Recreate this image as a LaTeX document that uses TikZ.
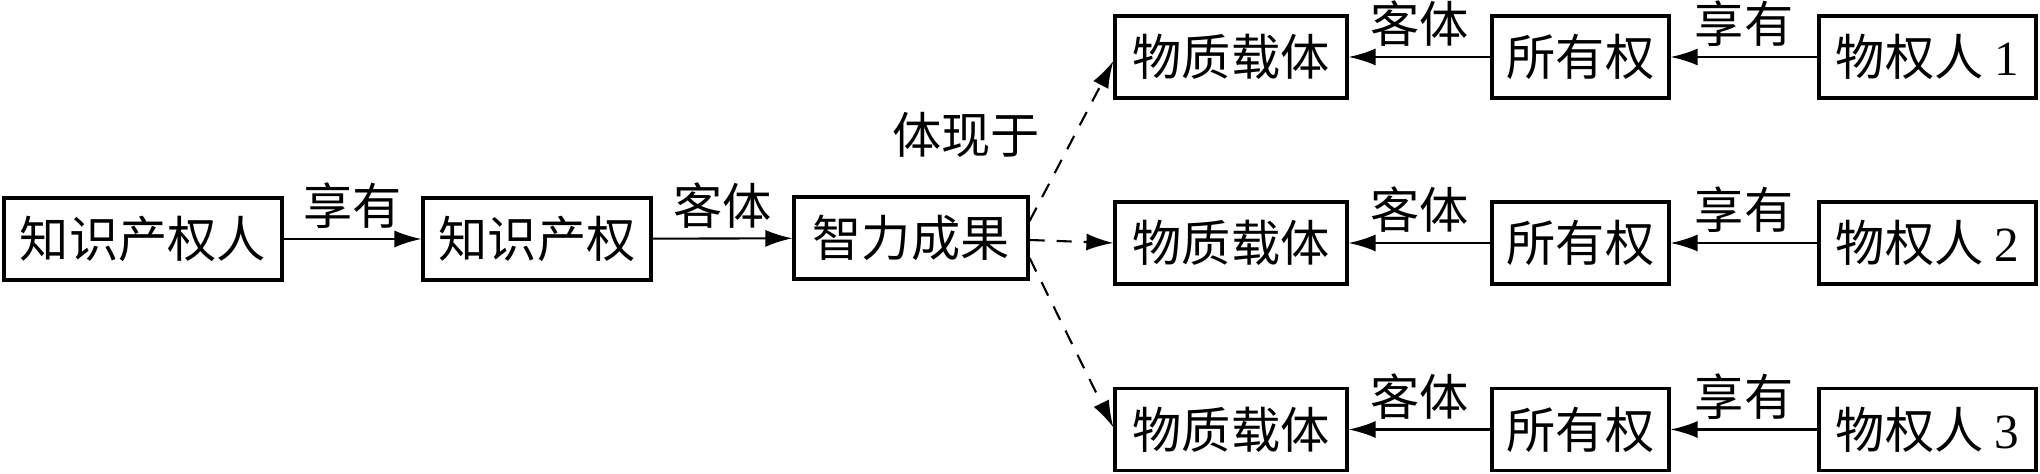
\documentclass[tikz,border=0pt]{standalone}
\usepackage{fontspec}
\setmainfont{Liberation Serif}
\newfontfamily\cjk{Noto Sans CJK SC}
\usetikzlibrary{arrows.meta}
\begin{document}
\begin{tikzpicture}[
  font=\cjk\fontsize{14}{16}\selectfont,
  box/.style={draw, line width=0.9pt, inner sep=0pt, minimum height=0.82cm},
  arr/.style={line width=0.6pt, -{Latex[length=2.7mm,width=1.7mm]}},
  darr/.style={arr, dash pattern=on 1.5mm off 1.2mm},
  lbl/.style={midway, yshift=0.33cm, inner sep=0pt}
]
\useasboundingbox (0,0) rectangle (20.4,4.74);
\node[box, minimum width=2.78cm] (A) at (1.43,2.35) {知识产权人};
\node[box, minimum width=2.28cm] (B) at (5.37,2.35) {知识产权};
\node[box, minimum width=2.34cm] (C) at (9.11,2.36) {智力成果};

\node[box, minimum width=2.32cm] (M1) at (12.31,4.17) {物质载体};
\node[box, minimum width=2.32cm] (M2) at (12.31,2.31) {物质载体};
\node[box, minimum width=2.32cm] (M3) at (12.31,0.445) {物质载体};

\node[box, minimum width=1.77cm] (O1) at (15.805,4.17) {所有权};
\node[box, minimum width=1.77cm] (O2) at (15.805,2.31) {所有权};
\node[box, minimum width=1.77cm] (O3) at (15.805,0.445) {所有权};

\node[box, minimum width=2.17cm] (P1) at (19.275,4.17) {物权人 {\rmfamily 1}};
\node[box, minimum width=2.17cm] (P2) at (19.275,2.31) {物权人 {\rmfamily 2}};
\node[box, minimum width=2.17cm] (P3) at (19.275,0.445) {物权人 {\rmfamily 3}};

\draw[arr] (A) -- node[lbl] {享有} (B);
\draw[arr] (B) -- node[lbl] {客体} (C);

\draw[arr] (O1) -- node[lbl] {客体} (M1);
\draw[arr] (O2) -- node[lbl] {客体} (M2);
\draw[arr] (O3) -- node[lbl] {客体} (M3);
\draw[arr] (P1) -- node[lbl] {享有} (O1);
\draw[arr] (P2) -- node[lbl] {享有} (O2);
\draw[arr] (P3) -- node[lbl] {享有} (O3);

\coordinate (s1) at ([yshift=0.17cm]C.east);
\coordinate (s2) at ([yshift=-0.02cm]C.east);
\coordinate (s3) at ([yshift=-0.2cm]C.east);
\draw[darr] (s1) -- ([yshift=-0.04cm]M1.west);
\draw[darr] (s2) -- (M2.west);
\draw[darr] (s3) -- ([yshift=0.02cm]M3.west);

\node[inner sep=0pt] (T) at (9.66,3.39) {体现于};
\end{tikzpicture}
\end{document}
